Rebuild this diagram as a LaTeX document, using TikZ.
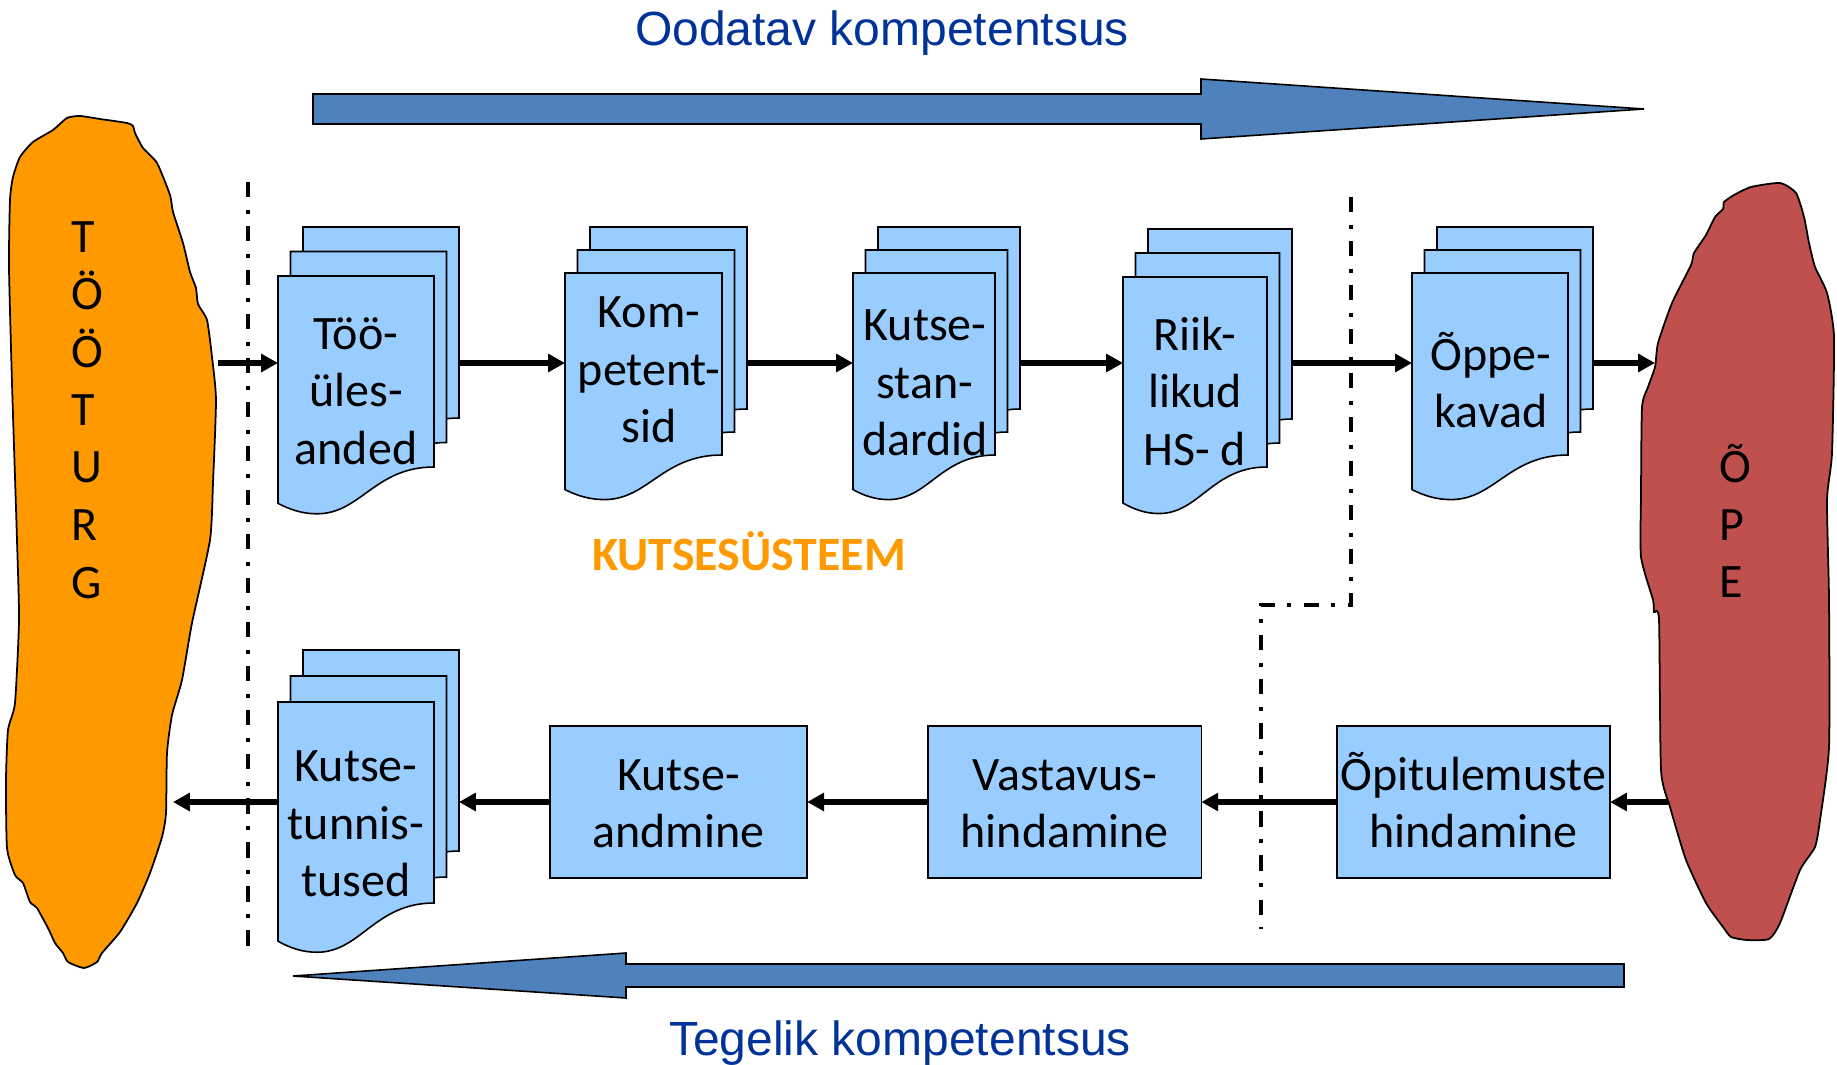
\documentclass[tikz,border=0pt]{standalone}
\usepackage{fontspec}
\setmainfont{Carlito}
\newfontfamily\titlefont{Liberation Sans}
\usetikzlibrary{arrows.meta,positioning}

\definecolor{pageblue}{HTML}{99CCFF}
\definecolor{bandblue}{HTML}{4F81BD}
\definecolor{titleblue}{HTML}{003399}
\definecolor{marketorange}{HTML}{FF9900}
\definecolor{studyred}{HTML}{C0504D}

\tikzset{
  docpage/.style={draw=black,fill=pageblue,line width=0.45pt},
  pagetext/.style={align=center,inner sep=0pt,font=\fontsize{13.65}{16.35}\selectfont},
  flowbox/.style={draw=black,fill=pageblue,line width=0.45pt,align=center,inner sep=0pt,outer sep=0pt,
    font=\fontsize{13.65}{16.35}\selectfont},
  stackend/.style={inner sep=0pt,outer sep=0pt,minimum height=1pt,anchor=west},
  blob/.style={draw=black,line width=0.5pt},
  band/.style={draw=black,fill=bandblue,line width=0.45pt},
  flow/.style={-{Triangle[length=4.8pt,width=5pt]},line width=1.7pt},
  border/.style={line width=1.25pt,dash pattern=on 4.3pt off 3.55pt on 1.12pt off 3.55pt},
  title/.style={text=titleblue,font=\titlefont\fontsize{13.65}{16}\selectfont},
  blobtext/.style={align=left,inner sep=0pt,font=\fontsize{13.65}{16.4}\selectfont}
}

% x, y, width, height of the right edge
\newcommand{\docpage}[4]{%
  \draw[docpage] (#1,#2) -- (#1+#3,#2) -- (#1+#3,#2+#4)
    .. controls (#1+.62*#3,#2+#4) and (#1+.53*#3,#2+1.245*#4) .. (#1+.25*#3,#2+1.245*#4)
    .. controls (#1+.16*#3,#2+1.245*#4) and (#1+.08*#3,#2+1.225*#4) .. (#1,#2+1.19*#4) -- cycle;}

% name, x, y, width, height, step up, y of the connectors
\newcommand{\docstack}[7]{%
  \docpage{#2+25}{#3-2*#6}{#4}{#5}
  \docpage{#2+12.5}{#3-#6}{#4}{#5}
  \docpage{#2}{#3}{#4}{#5}
  \node[stackend,minimum width={(#4+25)*0.01cm}] (#1) at (#2,#7) {};}

\begin{document}
\begin{tikzpicture}[x=0.01cm,y=-0.01cm]
  \useasboundingbox (0,0) rectangle (1837,1064);

  \node[title] (expected) at (882,33) {Oodatav kompetentsus};
  \node[title] (actual) at (900,1043) {Tegelik kompetentsus};
  \node[text=marketorange,font=\fontsize{13.6}{15}\selectfont\bfseries] (system) at (749,551) {KUTSESÜSTEEM};

  \draw[band] (313,94) -- (1201,94) -- (1201,79) -- (1644,109) -- (1201,139) -- (1201,124) -- (313,124) -- cycle;
  \draw[band] (1624,964) -- (626,964) -- (626,953) -- (293,976) -- (626,998) -- (626,987) -- (1624,987) -- cycle;

  % labour market
  \draw[blob,fill=marketorange] plot[smooth cycle,tension=0.35] coordinates {
    (80,116) (100,119) (127,123) (133,126) (135,133) (143,148) (157,163) (170,195) (173,212)
    (183,243) (190,272) (196,288) (198,304) (207,320) (212,357) (216,400) (213,483) (210,540)
    (192,623) (182,680) (172,715) (167,753) (166,813) (162,837) (150,873) (137,903) (120,932)
    (102,953) (97,962) (84,968) (68,962) (63,953) (55,943) (49,930) (37,908) (30,902) (23,883)
    (15,875) (7,848) (6,780) (8,730) (15,703) (19,620) (17,540) (12,383) (9,267) (10,200)
    (13,177) (20,157) (33,142) (53,130) (67,118)};
  \node[blobtext,anchor=west] (market) at (71,410) {T\\Ö\\Ö\\T\\U\\R\\G};
  \coordinate (marketout) at (218,363);
  \coordinate (marketin) at (173,802);

  % school
  \draw[blob,fill=studyred] plot[smooth cycle,tension=0.35] coordinates {
    (1780,183) (1796,193) (1804,217) (1809,243) (1815,267) (1827,293) (1834,337) (1832,453)
    (1827,500) (1829,600) (1829,747) (1820,820) (1815,847) (1800,870) (1780,923) (1769,939)
    (1747,940) (1731,937) (1723,927) (1706,903) (1686,860) (1670,807) (1661,770) (1659,620)
    (1654,612) (1653,600) (1641,557) (1641,493) (1642,407) (1648,387) (1655,367) (1658,343)
    (1672,303) (1691,265) (1694,253) (1706,235) (1715,217) (1723,209) (1724,202) (1734,195)
    (1751,187)};
  \node[blobtext,anchor=west] (study) at (1719,521) {Õ\\P\\E};
  \coordinate (studyin) at (1655,363);
  \coordinate (studyout) at (1668,802);

  \coordinate (leftup) at (248,182);
  \coordinate (leftdown) at (248,946);
  \coordinate (rightup) at (1351,197);
  \coordinate (rightbend) at (1351,605);
  \coordinate (rightback) at (1261,605);
  \coordinate (rightdown) at (1261,929);
  \draw[border] (leftup) -- (leftdown);
  \draw[border] (rightup) -- (rightbend) -- (rightback) -- (rightdown);

  \docstack{tasks}{278}{276}{156}{191}{24.5}{363}
  \node[pagetext] (taskstext) at (356,391) {Töö-\\üles-\\anded};
  \docstack{competences}{565}{273}{157}{182}{23}{363}
  \node[pagetext] (competencestext) at (649,370) {Kom-\\petent-\\sid};
  \docstack{standards}{853}{273}{142}{182}{23}{363}
  \node[pagetext] (standardstext) at (925,383) {Kutse-\\stan-\\dardid};
  \docstack{curricula}{1123}{277}{144}{190}{24}{363}
  \node[pagetext] (curriculatext) at (1195,391) {Riik-\\likud\\HS- d};
  \docstack{plans}{1412}{273}{156}{182}{23}{363}
  \node[pagetext] (planstext) at (1491,380) {Õppe-\\kavad};
  \docstack{certificates}{278}{702}{156}{201}{26}{802}
  \node[pagetext] (certificatestext) at (356,824) {Kutse-\\tunnis-\\tused};

  \node[flowbox,minimum width=2.73cm,minimum height=1.52cm] (results) at (1473.5,802) {Õpitulemuste\\hindamine\rule[-1.2pt]{0pt}{0pt}};
  \node[flowbox,minimum width=2.73cm,minimum height=1.52cm] (conformity) [left=1.355cm of results] {\vphantom{Õ}Vastavus-\\hindamine\rule[-1.2pt]{0pt}{0pt}};
  \node[flowbox,minimum width=2.57cm,minimum height=1.52cm] (awarding) [left=1.21cm of conformity] {\vphantom{Õ}Kutse-\\andmine\rule[-1.2pt]{0pt}{0pt}};

  \draw[flow] (marketout) -- (tasks.west);
  \draw[flow] (tasks.east) -- (competences.west);
  \draw[flow] (competences.east) -- (standards.west);
  \draw[flow] (standards.east) -- (curricula.west);
  \draw[flow] (curricula.east) -- (plans.west);
  \draw[flow] (plans.east) -- (studyin);
  \draw[flow] (studyout) -- (results.east);
  \draw[flow] (results.west) -- (conformity.east);
  \draw[flow] (conformity.west) -- (awarding.east);
  \draw[flow] (awarding.west) -- (certificates.east);
  \draw[flow] (certificates.west) -- (marketin);
\end{tikzpicture}
\end{document}
